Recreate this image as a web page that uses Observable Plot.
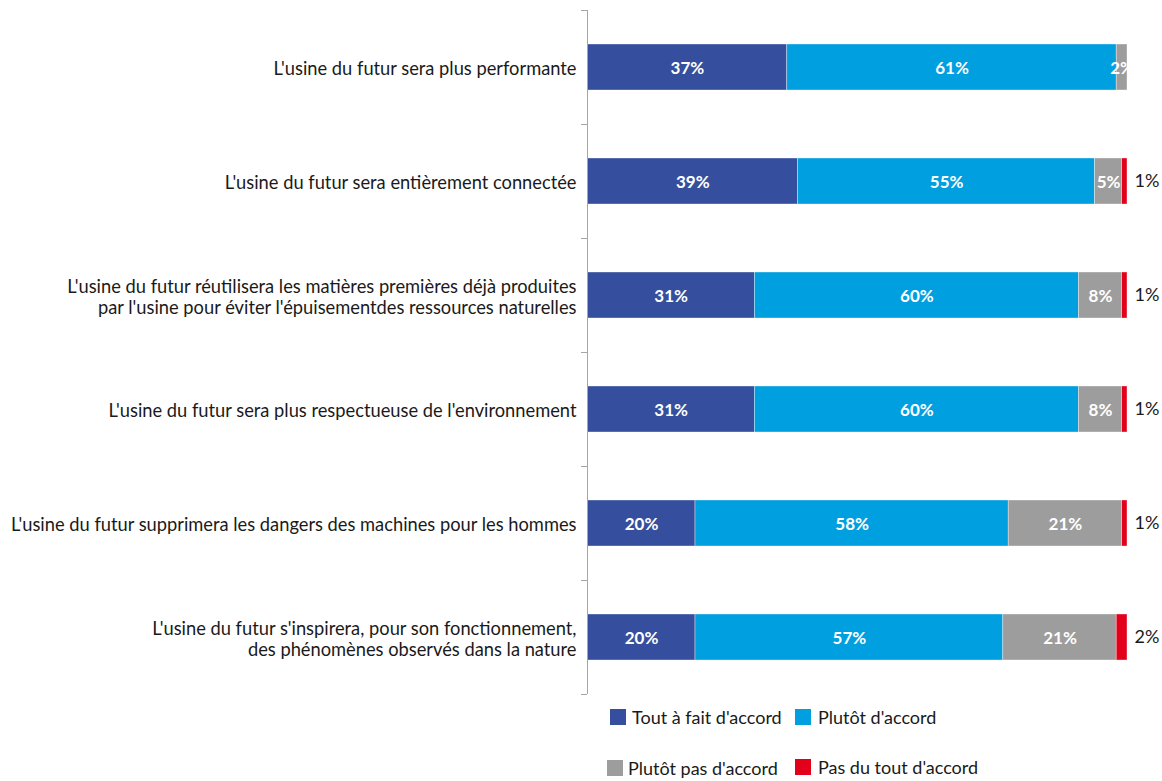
<!DOCTYPE html>
<html>
<head>
<meta charset="utf-8">
<script src="https://cdn.jsdelivr.net/npm/d3@7"></script>
<script src="https://cdn.jsdelivr.net/npm/@observablehq/plot@0.6"></script>
<style>
  body { margin: 0; background: #fff; font-family: Lato, "Open Sans", sans-serif; }
  #chart svg { display: block; }
  #legend { position: relative; width: 1162px; height: 81px; font-size: 18px; color: #1a1a1a; }
</style>
</head>
<body>
<div id="chart"></div>
<div id="legend"></div>
<script>
const categories = [
  "L'usine du futur sera plus performante",
  "L'usine du futur sera entièrement connectée",
  "L'usine du futur réutilisera les matières premières déjà produites\npar l'usine pour éviter l'épuisementdes ressources naturelles",
  "L'usine du futur sera plus respectueuse de l'environnement",
  "L'usine du futur supprimera les dangers des machines pour les hommes",
  "L'usine du futur s'inspirera, pour son fonctionnement,\ndes phénomènes observés dans la nature"
];
const series = ["Tout à fait d'accord", "Plutôt d'accord", "Plutôt pas d'accord", "Pas du tout d'accord"];
const toutAFait = [37, 39, 31, 31, 20, 20];
const plutot = [61, 55, 60, 60, 58, 57];
const plutotPas = [2, 5, 8, 8, 21, 21];
const pasDuTout = [0, 1, 1, 1, 1, 2];
const colors = ["#354f9e", "#009fe0", "#9d9d9d", "#e3001b"];

const columns = [toutAFait, plutot, plutotPas, pasDuTout];
const data = categories.flatMap((c, i) => columns.map((arr, j) => ({cat: c, series: series[j], value: arr[i]})));
const inside = data.filter(d => d.series !== series[3]);
const outside = data.filter(d => d.series === series[3] && d.value > 0);

const chart = Plot.plot({
  width: 1162,
  height: 700,
  marginLeft: 587,
  marginRight: 35,
  marginTop: 10,
  marginBottom: 6,
  style: {fontFamily: "Lato, 'Open Sans', sans-serif", background: "#fff"},
  x: {domain: [0, 100], axis: null},
  y: {domain: categories, axis: null, padding: 0},
  color: {domain: series, range: colors},
  marks: [
    Plot.barX(data, Plot.stackX({y: "cat", x: "value", z: "series", fill: "series", order: series, insetTop: 34, insetBottom: 34, stroke: "#fff", strokeWidth: 0.6, strokeOpacity: 0.6})),
    Plot.text(inside, Plot.stackX({y: "cat", x: "value", z: "series", order: series, text: d => d.value + "%", fill: "#fff", fontWeight: "bold", fontSize: 17, dy: 1})),
    Plot.text(outside, {y: "cat", x: 100, text: d => d.value + "%", dx: 7, textAnchor: "start", fill: "#1a1a1a", fontSize: 18}),
    Plot.text(categories, {y: d => d, x: 0, dx: -11, dy: 1, text: d => d, textAnchor: "end", fill: "#1a1a1a", fontSize: 18.3, lineHeight: 1.15}),
    Plot.ruleX([0], {stroke: "#a6a6a6"}),
    Plot.ruleY(categories, {y: d => d, x1: 0, x2: 0, dy: -57, insetLeft: -6, stroke: "#a6a6a6"}),
    Plot.ruleY(categories.slice(-1), {y: d => d, x1: 0, x2: 0, dy: 57, insetLeft: -6, stroke: "#a6a6a6"})
  ]
});
document.getElementById("chart").appendChild(chart);

const legendPos = [
  {left: 610, top: 9, text: 632},
  {left: 795, top: 9, text: 818},
  {left: 607, top: 60, text: 628},
  {left: 795, top: 59, text: 818}
];
const legend = document.getElementById("legend");
series.forEach((s, i) => {
  const p = legendPos[i];
  const sw = document.createElement("div");
  sw.style.cssText = `position:absolute;left:${p.left}px;top:${p.top}px;width:16px;height:16px;background:${colors[i]}`;
  const t = document.createElement("div");
  t.style.cssText = `position:absolute;left:${p.text}px;top:${p.top - 3}px;line-height:22px;white-space:nowrap`;
  t.textContent = s;
  legend.appendChild(sw);
  legend.appendChild(t);
});
</script>
</body>
</html>
